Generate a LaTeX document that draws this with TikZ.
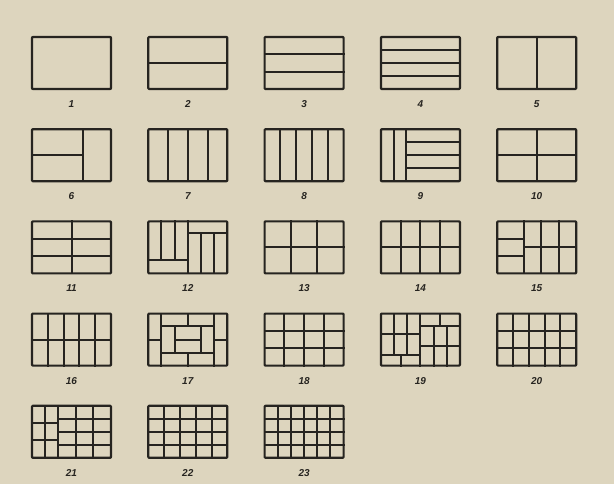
\documentclass[tikz,border=0pt]{standalone}
\usepackage{fontspec}
\setmainfont{Liberation Sans}
\definecolor{paper}{RGB}{221,213,190}
\definecolor{ink}{RGB}{38,36,32}
\tikzset{
  frame/.style={draw=ink, line width=2.2pt, line join=round, rounded corners=0.8pt},
  ln/.style={draw=ink, line width=2.0pt, line cap=rect},
  lab/.style={text=ink, font=\fontsize{10}{10}\selectfont\bfseries\itshape, inner sep=0pt}
}
\newcommand\panelbox[4]{%
  \begin{scope}[shift={({32+116.3*#1},{37+92.2*#2})},x=79pt,y=-52pt]
    #4
    \draw[frame] (0,0) rectangle (1,1);
  \end{scope}
  \node[lab] (lab#3) at ({32+116.3*#1+39.5},{37+92.2*#2+52+15}) {#3};
}
\begin{document}
\begin{tikzpicture}[x=1pt,y=-1pt]
\fill[paper] (0,0) rectangle (614,484);
\useasboundingbox (0,0) rectangle (614,484);
% row 1
\panelbox{0}{0}{1}{}
\panelbox{1}{0}{2}{\draw[ln] (0,.5) -- (1,.5);}
\panelbox{2}{0}{3}{\foreach \v in {1/3,2/3} \draw[ln] (0,\v) -- (1,\v);}
\panelbox{3}{0}{4}{\foreach \v in {.25,.5,.75} \draw[ln] (0,\v) -- (1,\v);}
\panelbox{4}{0}{5}{\draw[ln] (.5,0) -- (.5,1);}
% row 2
\panelbox{0}{1}{6}{\draw[ln] (.64,0) -- (.64,1); \draw[ln] (0,.5) -- (.64,.5);}
\panelbox{1}{1}{7}{\foreach \u in {.25,.5,.75} \draw[ln] (\u,0) -- (\u,1);}
\panelbox{2}{1}{8}{\foreach \u in {.2,.4,.6,.8} \draw[ln] (\u,0) -- (\u,1);}
\panelbox{3}{1}{9}{\foreach \u in {.16,.32} \draw[ln] (\u,0) -- (\u,1);
  \foreach \v in {.25,.5,.75} \draw[ln] (.32,\v) -- (1,\v);}
\panelbox{4}{1}{10}{\draw[ln] (.5,0) -- (.5,1); \draw[ln] (0,.5) -- (1,.5);}
% row 3
\panelbox{0}{2}{11}{\draw[ln] (.5,0) -- (.5,1);
  \foreach \v in {1/3,2/3} \draw[ln] (0,\v) -- (1,\v);}
\panelbox{1}{2}{12}{\draw[ln] (.5,0) -- (.5,1);
  \foreach \u in {1/6,1/3} \draw[ln] (\u,0) -- (\u,.75);
  \draw[ln] (0,.75) -- (.5,.75);
  \draw[ln] (.5,.23) -- (1,.23);
  \foreach \u in {2/3,5/6} \draw[ln] (\u,.23) -- (\u,1);}
\panelbox{2}{2}{13}{\foreach \u in {1/3,2/3} \draw[ln] (\u,0) -- (\u,1);
  \draw[ln] (0,.5) -- (1,.5);}
\panelbox{3}{2}{14}{\foreach \u in {.25,.5,.75} \draw[ln] (\u,0) -- (\u,1);
  \draw[ln] (0,.5) -- (1,.5);}
\panelbox{4}{2}{15}{\foreach \u in {1/3,5/9,7/9} \draw[ln] (\u,0) -- (\u,1);
  \foreach \v in {1/3,2/3} \draw[ln] (0,\v) -- (1/3,\v);
  \draw[ln] (1/3,.5) -- (1,.5);}
% row 4
\panelbox{0}{3}{16}{\foreach \u in {.2,.4,.6,.8} \draw[ln] (\u,0) -- (\u,1);
  \draw[ln] (0,.5) -- (1,.5);}
\panelbox{1}{3}{17}{\foreach \u in {1/6,5/6} \draw[ln] (\u,0) -- (\u,1);
  \draw[ln] (0,.5) -- (1/6,.5); \draw[ln] (5/6,.5) -- (1,.5);
  \draw[ln] (1/6,.24) -- (5/6,.24); \draw[ln] (1/6,.76) -- (5/6,.76);
  \draw[ln] (.5,0) -- (.5,.24); \draw[ln] (.5,.76) -- (.5,1);
  \foreach \u in {1/3,2/3} \draw[ln] (\u,.24) -- (\u,.76);
  \draw[ln] (1/3,.5) -- (2/3,.5);}
\panelbox{2}{3}{18}{\foreach \u in {.25,.5,.75} \draw[ln] (\u,0) -- (\u,1);
  \foreach \v in {1/3,2/3} \draw[ln] (0,\v) -- (1,\v);}
\panelbox{3}{3}{19}{\draw[ln] (.5,0) -- (.5,1);
  \foreach \u in {1/6,1/3} \draw[ln] (\u,0) -- (\u,.8);
  \foreach \v in {.4,.8} \draw[ln] (0,\v) -- (.5,\v);
  \draw[ln] (.25,.8) -- (.25,1);
  \draw[ln] (.5,.24) -- (1,.24);
  \draw[ln] (.75,0) -- (.75,.24);
  \foreach \u in {2/3,5/6} \draw[ln] (\u,.24) -- (\u,1);
  \draw[ln] (.5,.62) -- (1,.62);}
\panelbox{4}{3}{20}{\foreach \u in {.2,.4,.6,.8} \draw[ln] (\u,0) -- (\u,1);
  \foreach \v in {1/3,2/3} \draw[ln] (0,\v) -- (1,\v);}
% row 5
\panelbox{0}{4}{21}{\foreach \u in {1/6,1/3,5/9,7/9} \draw[ln] (\u,0) -- (\u,1);
  \foreach \v in {1/3,2/3} \draw[ln] (0,\v) -- (1/3,\v);
  \foreach \v in {.25,.5,.75} \draw[ln] (1/3,\v) -- (1,\v);}
\panelbox{1}{4}{22}{\foreach \u in {.2,.4,.6,.8} \draw[ln] (\u,0) -- (\u,1);
  \foreach \v in {.25,.5,.75} \draw[ln] (0,\v) -- (1,\v);}
\panelbox{2}{4}{23}{\foreach \u in {1/6,1/3,.5,2/3,5/6} \draw[ln] (\u,0) -- (\u,1);
  \foreach \v in {.25,.5,.75} \draw[ln] (0,\v) -- (1,\v);}
\end{tikzpicture}
\end{document}
